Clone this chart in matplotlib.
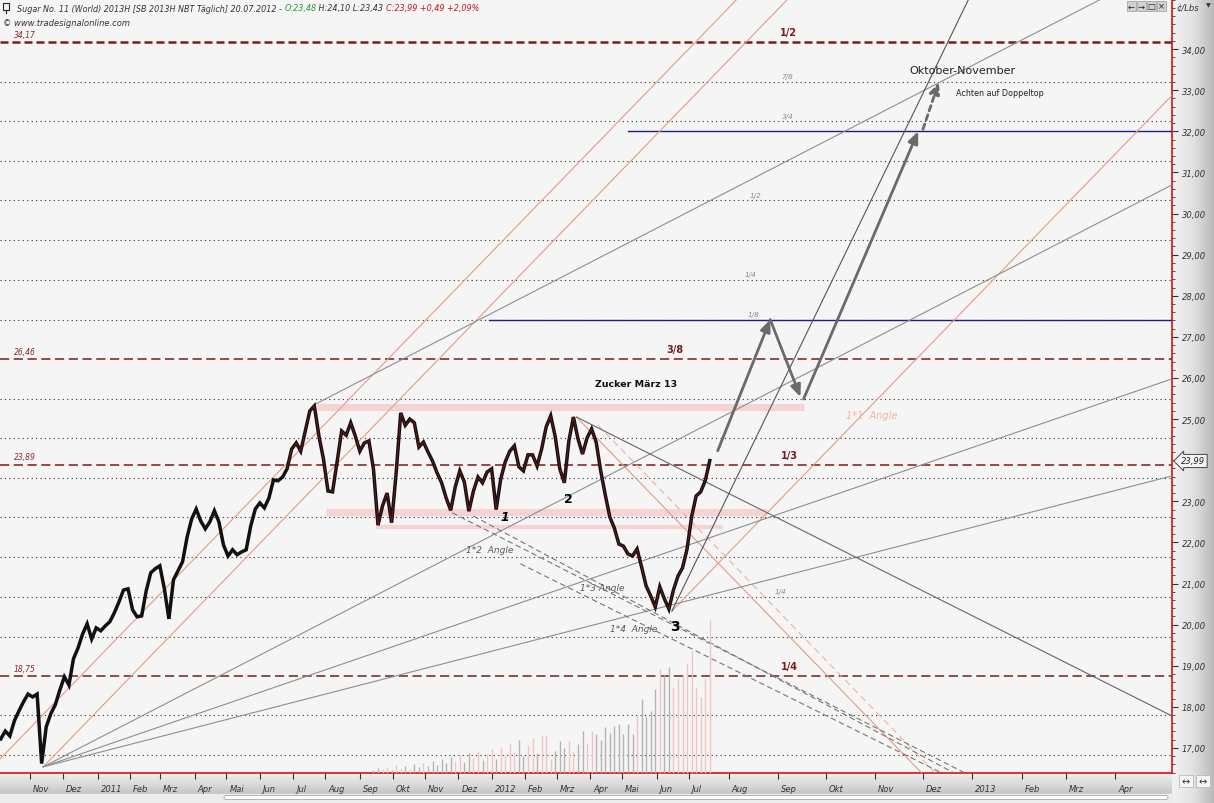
import numpy as np
import pandas as pd
import matplotlib
matplotlib.use("Agg")
import matplotlib.pyplot as plt
from matplotlib.patches import Rectangle, FancyBboxPatch
from matplotlib.colors import LinearSegmentedColormap
from matplotlib.ticker import MultipleLocator
from matplotlib.transforms import ScaledTranslation

plt.rcParams["font.family"] = ["DejaVu Sans"]

# Schlusskurse SB 2013H, jeder 3. Handelstag bis zum letzten Handelstag
last_day = "2012-07-20"
closes = [
    17.22, 17.41, 17.29, 17.66, 17.90, 18.12, 18.31, 18.24, 18.31, 16.62,
    17.51, 17.83, 18.05, 18.41, 18.73, 18.53, 19.17, 19.43, 19.77, 20.02,
    19.65, 19.92, 19.85, 19.97, 20.07, 20.29, 20.55, 20.84, 20.87, 20.36,
    20.19, 20.21, 20.82, 21.26, 21.36, 21.43, 20.87, 20.14, 21.09, 21.31,
    21.53, 22.13, 22.57, 22.81, 22.52, 22.33, 22.50, 22.77, 22.50, 21.94,
    21.67, 21.82, 21.70, 21.77, 21.82, 22.40, 22.81, 22.96, 22.84, 23.08,
    23.52, 23.50, 23.59, 23.79, 24.27, 24.42, 24.22, 24.71, 25.20, 25.32,
    24.59, 24.03, 23.25, 23.23, 23.96, 24.71, 24.61, 24.91, 24.59, 24.22,
    24.42, 24.47, 23.79, 22.42, 22.89, 23.20, 22.48, 23.69, 25.15, 24.85,
    25.00, 24.91, 24.32, 24.44, 24.20, 23.98, 23.69, 23.45, 23.08, 22.78,
    23.35, 23.74, 23.47, 22.76, 23.25, 23.59, 23.45, 23.71, 23.79, 22.80,
    23.54, 23.96, 24.22, 24.35, 23.84, 23.74, 24.13, 24.13, 23.86, 24.27,
    24.81, 25.08, 24.57, 23.79, 23.45, 24.47, 25.05, 24.52, 24.15, 24.54,
    24.76, 24.44, 23.74, 23.16, 22.62, 22.35, 21.96, 21.91, 21.72, 21.67,
    21.84, 21.40, 20.94, 20.70, 20.43, 20.92, 20.63, 20.38, 20.84, 21.18,
    21.38, 21.84, 22.62, 23.13, 23.23, 23.50, 23.99,
]
# Volumen der letzten Stichtage (Kontrakte)
volume = [
    200, 320, 260, 390, 200, 520, 320, 450, 260, 580,
    390, 650, 450, 780, 520, 900, 650, 1030, 780, 1160,
    710, 1290, 970, 1420, 840, 1230, 1550, 900, 1680, 1160,
    1940, 1360, 2130, 1100, 1810, 2260, 1290, 2450, 2390, 900,
    1420, 2070, 1610, 2070, 1420, 1870, 2710, 1940, 2710, 2520,
    2130, 2970, 2580, 3040, 3170, 2520, 3170, 2520, 3750, 4780,
    3680, 4010, 5430, 6720, 6330, 6850, 5560, 6140, 6400, 7110,
    7880, 5560, 4910, 6140, 9950,
]

# Gann-Achtel (gepunktet) und Hauptlinien (gestrichelt)
gann_levels = [33.21, 32.24, 31.28, 30.32, 29.35, 28.39, 27.42, 25.50, 24.53,
               23.57, 22.61, 21.64, 20.68, 19.71, 17.79, 16.82]
key_levels = [34.17, 26.46, 23.89, 18.75]
key_values = ["34,17", "26,46", "23,89", "18,75"]
key_names = ["1/2", "3/8", "1/3", "1/4"]
small_names = ["7/8", "3/4", "1/2", "1/4", "1/8", "1/4"]
small_levels = [33.21, 32.24, 30.32, 28.39, 27.42, 20.68]

blue_lines = [("2012-05-07", 32.00), ("2011-12-29", 27.42)]
pink_zones = [("2011-07-25", "2012-09-17", 25.30),
              ("2011-08-02", "2012-08-25", 22.74),
              ("2011-09-16", "2012-07-28", 22.38)]

gann_1x1 = 0.038          # Cent je Handelstag
start_pt = ("2010-10-04", 16.71)
nov_low = ("2010-11-12", 16.54)
jul_high = ("2011-07-22", 25.37)
mar_high = ("2012-03-20", 25.05)
apr_high = ("2012-04-09", 24.86)
jun_low = ("2012-06-15", 20.33)
dec_lows = [("2011-11-25", 22.72, -0.0187),
            ("2011-12-15", 22.64, -0.0197),
            ("2012-01-27", 21.48, -0.0183)]

path_a = [("2012-07-25", 24.23), ("2012-08-27", 27.42), ("2012-09-15", 25.54)]
path_b = [("2012-09-17", 25.49), ("2012-11-28", 32.00)]
path_c = [("2012-12-01", 32.05), ("2012-12-11", 33.20)]

month_names = ["Jan", "Feb", "Mrz", "Apr", "Mai", "Jun", "Jul", "Aug", "Sep", "Okt", "Nov", "Dez"]

# Zeitachse: Handelstage bis zum letzten Kurs, danach Kalendertage
origin = np.datetime64("2010-10-01")
end = np.datetime64(last_day)
n_end = np.busday_count(origin, end)


def xpos(d):
    d = np.datetime64(d, "D")
    if d <= end:
        return float(np.busday_count(origin, d))
    return n_end + 1.05 * int((d - end) / np.timedelta64(1, "D"))


XL, XR = 1.5, 775.1
YB, YT = 16.39, 35.22

fig = plt.figure(figsize=(12.14, 8.04), dpi=100)
fig.patch.set_facecolor("#f2f2f2")

# Hintergrund: Achsenleisten
bg = fig.add_axes([0, 0, 1, 1], zorder=0)
grad_r = LinearSegmentedColormap.from_list("gr", ["#f2f2f2", "#e2e2e2", "#b9b9b9"])
grad_b = LinearSegmentedColormap.from_list("gb", ["#f0f0f0", "#dcdcdc", "#c4c4c4"])
bg.imshow(np.linspace(0, 1, 64).reshape(1, -1), cmap=grad_r, aspect="auto",
          extent=[1172, 1214, 804, 0])
bg.imshow(np.linspace(0, 1, 64).reshape(-1, 1), cmap=grad_b, aspect="auto",
          extent=[0, 1172, 795, 774])
bg.add_patch(Rectangle((0, 795), 1172, 9, color="#ececec"))
bg.add_patch(FancyBboxPatch((224, 796.5), 944, 4, boxstyle="round,pad=0,rounding_size=2",
                            fc="white", ec="#a8a8a8", lw=0.6))
bg.set_xlim(0, 1214)
bg.set_ylim(804, 0)
bg.axis("off")

ax = fig.add_axes([0, 30 / 804, 1172 / 1214, 774 / 804], zorder=1)
ax.set_facecolor("#f5f5f5")

# Gann-Linien horizontal
for v in gann_levels:
    ax.axhline(v, color="#3a2a2a", lw=0.8, ls=(0, (1, 3)), zorder=1)
for v in key_levels:
    big = v == key_levels[0]
    ax.axhline(v, color="#7a1a1a", lw=1.8 if big else 1.1,
               ls=(0, (3.2, 1.6)) if big else (0, (6, 3)), zorder=2)

for d0, d1, v in pink_zones:
    ax.plot([xpos(d0), xpos(d1)], [v, v], color="#f6d3d3",
            lw=5 if v > 22.5 else 3, solid_capstyle="butt", zorder=2)
for d0, v in blue_lines:
    ax.plot([xpos(d0), XR], [v, v], color="#1c1c8c", lw=1.0, zorder=3)


def ray(point, slope, **kw):
    x0 = xpos(point[0])
    ax.plot([x0, XR], [point[1], point[1] + slope * (XR - x0)], **kw)


salmon = "#e59d82"
gray = "#8e8e8e"
ray(start_pt, gann_1x1, color=salmon, lw=0.8, zorder=3)
ray(nov_low, gann_1x1, color=salmon, lw=0.8, zorder=3)
ray(jun_low, gann_1x1, color=salmon, lw=0.8, zorder=3)
ray(mar_high, -gann_1x1, color=salmon, lw=0.8, zorder=3)
ray(apr_high, -gann_1x1, color="#eab3a0", lw=0.8, ls=(0, (6, 4)), zorder=3)
for f in (2, 3, 4):
    ray(nov_low, gann_1x1 / f, color=gray, lw=0.8, zorder=3)
ray(jul_high, gann_1x1 / 2, color=gray, lw=0.8, zorder=3)
ray(mar_high, -0.0185, color="#666666", lw=0.8, zorder=3)
ray(jun_low, 2 * gann_1x1, color="#555555", lw=0.8, zorder=3)
for d0, v, s in dec_lows:
    ray((d0, v), s, color="#777777", lw=0.8, ls=(0, (5, 3)), zorder=3)

# Kursverlauf
dates = pd.bdate_range(end=last_day, periods=len(closes), freq="3B")
x = np.array([xpos(d) for d in dates.values.astype("datetime64[D]")])
c = np.array(closes)
up = np.concatenate([[True], np.diff(c) >= 0])
ax.plot(x, c, color="#111111", lw=2.5, solid_joinstyle="miter", zorder=4)
ax.plot(x[63:], c[63:], color="#7a1515", lw=0.6, zorder=6)

# Prognosepfeile
arrow_kw = dict(arrowstyle="-|>,head_length=0.7,head_width=0.3", color="#6a6a6a",
                lw=2.0, shrinkA=0, shrinkB=0)
for path in (path_a, path_b):
    for (d0, v0), (d1, v1) in zip(path[:-1], path[1:]):
        ax.annotate("", xy=(xpos(d1), v1), xytext=(xpos(d0), v0), arrowprops=arrow_kw, zorder=7)
(d0, v0), (d1, v1) = path_c
ax.annotate("", xy=(xpos(d1), v1), xytext=(xpos(d0), v0),
            arrowprops=dict(arrow_kw, linestyle=(0, (2, 1.5))), zorder=7)

ax.set_xlim(XL, XR)
ax.set_ylim(YB, YT)

# Volumen
vax = ax.twinx()
vx = x[-len(volume):]
vcol = ["#f0c4c4" if u else "#b4b4b4" for u in up[-len(volume):]]
vax.vlines(vx, 0, volume, colors=vcol, lw=1.0)
vax.set_ylim(0, 50000)
vax.set_xlim(XL, XR)
vax.axis("off")

# Achsen
ax.yaxis.tick_right()
ax.set_yticks(range(17, 35))
ax.set_yticklabels([f"{v},00" for v in range(17, 35)])
ax.yaxis.set_minor_locator(MultipleLocator(0.2))
ax.tick_params(axis="y", which="major", direction="out", length=4, color="#333333",
               labelsize=6, labelcolor="#333333", pad=3)
ax.tick_params(axis="y", which="minor", direction="out", length=2, color="#333333")
for t in ax.get_yticklabels():
    t.set_fontstyle("italic")

months = pd.date_range("2010-11-01", "2013-04-01", freq="MS")
ax.set_xticks([xpos(d) for d in months.values.astype("datetime64[D]")])
ax.set_xticklabels([str(m.year) if m.month == 1 else month_names[m.month - 1] for m in months])
ax.tick_params(axis="x", direction="out", length=4, color="#333333", labelsize=6,
               labelcolor="#333333", pad=4)
shift = ScaledTranslation(3 / 100, 0, fig.dpi_scale_trans)
for t in ax.get_xticklabels():
    t.set_ha("left")
    t.set_fontstyle("italic")
    t.set_transform(t.get_transform() + shift)

for s in ("top", "left"):
    ax.spines[s].set_visible(False)
for s in ("right", "bottom"):
    ax.spines[s].set_color("#d01414")
    ax.spines[s].set_linewidth(1.2)

# Beschriftungen an den Linien
yt = ax.get_yaxis_transform()
for v, t in zip(key_levels, key_values):
    ax.text(0.021, v + 0.08, t, transform=yt, fontsize=5.5, style="italic",
            color="#8b2a2a", ha="center", va="bottom")
for v, t, fx in zip(key_levels, key_names, [0.673, 0.576, 0.674, 0.674]):
    ax.text(fx, v + 0.12, t, transform=yt, fontsize=7, fontweight="bold",
            color="#7a1a1a", ha="center", va="bottom")
for v, t, fx in zip(small_levels, small_names, [0.672, 0.672, 0.645, 0.640, 0.643, 0.666]):
    ax.text(fx, v + 0.06, t, transform=yt, fontsize=5.2, style="italic",
            color="#8a8a8a", ha="center", va="bottom")

# Overlay fuer Texte in Bildpunkten
deco = fig.add_axes([0, 0, 1, 1], zorder=10)
deco.set_xlim(0, 1214)
deco.set_ylim(804, 0)
deco.axis("off")

hdr = dict(fontsize=5.8, style="italic", va="center")
t1 = deco.text(17, 9, "Sugar No. 11 (World) 2013H [SB 2013H NBT Täglich] 20.07.2012 - ",
               color="#333333", **hdr)
t2 = deco.annotate("O:23,48", xy=(1, 0.5), xycoords=t1, color="#2a9a2a", **hdr)
t3 = deco.annotate(" H:24,10 L:23,43 ", xy=(1, 0.5), xycoords=t2, color="#333333", **hdr)
deco.annotate("C:23,99 +0,49 +2,09%", xy=(1, 0.5), xycoords=t3, color="#d01414", **hdr)
deco.add_patch(Rectangle((3, 4), 6, 7, fill=False, ec="#222222", lw=0.8))
deco.plot([6, 6], [11, 14], color="#222222", lw=0.8)
deco.text(3, 24, "© www.tradesignalonline.com", fontsize=6, style="italic",
          color="#333333", va="center")

deco.text(636, 385, "Zucker März 13", fontsize=6.8, fontweight="bold", ha="center",
          va="center", color="#111111")
deco.text(962, 71, "Oktober-November", fontsize=8, ha="center", va="center", color="#222222")
deco.text(1000, 93, "Achten auf Doppeltop", fontsize=5.8, ha="center", va="center", color="#222222")
for t, px, py in [("1*2  Angle", 490, 551), ("1*3 Angle", 602, 589), ("1*4  Angle", 634, 630)]:
    deco.text(px, py, t, fontsize=6.5, style="italic", ha="center", va="center", color="#5a5a5a")
deco.text(872, 416, "1*1  Angle", fontsize=7, style="italic", ha="center", va="center",
          color="#f0b49c")
deco.text(505, 518, "1", fontsize=9, fontweight="bold", style="italic", ha="center", va="center")
deco.text(568, 500, "2", fontsize=9, fontweight="bold", ha="center", va="center")
deco.text(675, 627, "3", fontsize=10, fontweight="bold", ha="center", va="center")

# Kursfahne und Bedienelemente
deco.text(1193, 462, "23,99", fontsize=6, style="italic", ha="center", va="center",
          color="#222222", bbox=dict(boxstyle="larrow,pad=0.25", fc="#f4f4f4", ec="#444444", lw=0.7))
for i, g in enumerate(["←", "→", "□", "×"]):
    deco.add_patch(Rectangle((1127 + i * 10, 2), 9, 10, fc="#d2d2d2", ec="#9a9a9a", lw=0.5))
    deco.text(1131.5 + i * 10, 7, g, fontsize=6, ha="center", va="center", color="#222222")
deco.text(1176, 8, "¢/Lbs", fontsize=6, style="italic", va="center", color="#333333")
deco.text(1208, 6, "▼", fontsize=4.5, ha="center", va="center", color="#333333")
for px in (1186, 1203):
    deco.add_patch(Rectangle((px - 7, 776), 14, 12, fc="#f4f4f4", ec="#b0b0b0", lw=0.5))
    deco.text(px, 782, "↔", fontsize=7, ha="center", va="center", color="#333333")

fig.savefig("out.png", dpi=100, facecolor=fig.get_facecolor())
